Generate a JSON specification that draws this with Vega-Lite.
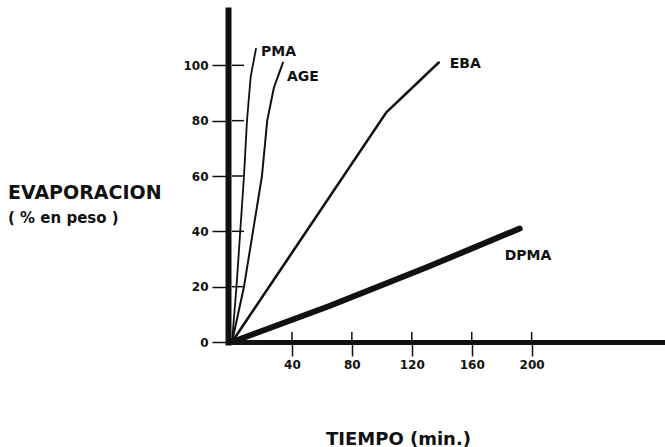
{
  "$schema": "https://vega.github.io/schema/vega-lite/v6.json",
  "width": 433,
  "height": 332,
  "autosize": {"type": "none"},
  "padding": {"left": 232, "top": 10, "right": 0, "bottom": 105},
  "background": "white",
  "config": {"view": {"stroke": null}, "font": "DejaVu Sans"},
  "title": {
    "text": "EVAPORACION",
    "subtitle": "( % en peso )",
    "orient": "top",
    "anchor": "start",
    "frame": "group",
    "dx": -224,
    "dy": 220,
    "font": "DejaVu Sans",
    "fontSize": 19,
    "fontWeight": "bold",
    "color": "#111",
    "subtitleFont": "DejaVu Sans",
    "subtitleFontSize": 15,
    "subtitleFontWeight": "bold",
    "subtitleColor": "#111",
    "subtitlePadding": 8
  },
  "datasets": {
    "curves": [
      {"serie": "PMA", "t": 0, "e": 0},
      {"serie": "PMA", "t": 3, "e": 20},
      {"serie": "PMA", "t": 5.5, "e": 40},
      {"serie": "PMA", "t": 8, "e": 60},
      {"serie": "PMA", "t": 10, "e": 80},
      {"serie": "PMA", "t": 12.5, "e": 96},
      {"serie": "PMA", "t": 16, "e": 106},
      {"serie": "AGE", "t": 0, "e": 0},
      {"serie": "AGE", "t": 8, "e": 20},
      {"serie": "AGE", "t": 14, "e": 40},
      {"serie": "AGE", "t": 20, "e": 60},
      {"serie": "AGE", "t": 23.5, "e": 80},
      {"serie": "AGE", "t": 28, "e": 92},
      {"serie": "AGE", "t": 34, "e": 101},
      {"serie": "EBA", "t": 0, "e": 0},
      {"serie": "EBA", "t": 103, "e": 83},
      {"serie": "EBA", "t": 138, "e": 101},
      {"serie": "DPMA", "t": 0, "e": 0},
      {"serie": "DPMA", "t": 65, "e": 13},
      {"serie": "DPMA", "t": 130, "e": 27},
      {"serie": "DPMA", "t": 192, "e": 41}
    ],
    "yticks": [{"v": 20}, {"v": 40}, {"v": 60}, {"v": 80}, {"v": 100}],
    "xticks": [{"v": 40}, {"v": 80}, {"v": 120}, {"v": 160}, {"v": 200}]
  },
  "layer": [
    {
      "data": {"name": "curves"},
      "transform": [{"filter": "datum.serie == 'PMA'"}],
      "mark": {"type": "line", "color": "#111", "strokeWidth": 1.8, "strokeCap": "round", "strokeJoin": "round"},
      "encoding": {
        "x": {
          "field": "t",
          "type": "quantitative",
          "scale": {"domain": [0, 289], "nice": false},
          "axis": {
            "values": [40, 80, 120, 160, 200],
            "title": "TIEMPO (min.)",
            "grid": false,
            "domainWidth": 5,
            "domainColor": "#111",
            "domainCap": "square",
            "tickColor": "#111",
            "tickWidth": 1.5,
            "tickSize": 14,
            "labelFont": "DejaVu Sans",
            "labelFontWeight": "bold",
            "labelFontSize": 12,
            "labelColor": "#111",
            "labelPadding": 3,
            "titleFont": "DejaVu Sans",
            "titleFontSize": 18,
            "titleFontWeight": "bold",
            "titleColor": "#111",
            "titleX": 166,
            "titleY": 97,
            "titleAlign": "center",
            "titleBaseline": "middle"
          }
        },
        "y": {
          "field": "e",
          "type": "quantitative",
          "scale": {"domain": [0, 120], "nice": false},
          "axis": {
            "values": [0, 20, 40, 60, 80, 100],
            "title": null,
            "grid": false,
            "offset": 4,
            "domainWidth": 6,
            "domainColor": "#111",
            "domainCap": "square",
            "tickColor": "#111",
            "tickWidth": 1.5,
            "tickSize": 16,
            "labelFont": "DejaVu Sans",
            "labelFontWeight": "bold",
            "labelFontSize": 12,
            "labelColor": "#111",
            "labelPadding": 4
          }
        }
      }
    },
    {
      "data": {"name": "curves"},
      "transform": [{"filter": "datum.serie == 'AGE'"}],
      "mark": {"type": "line", "color": "#111", "strokeWidth": 2, "strokeCap": "round", "strokeJoin": "round"},
      "encoding": {
        "x": {"field": "t", "type": "quantitative"},
        "y": {"field": "e", "type": "quantitative"}
      }
    },
    {
      "data": {"name": "curves"},
      "transform": [{"filter": "datum.serie == 'EBA'"}],
      "mark": {"type": "line", "color": "#111", "strokeWidth": 2.6, "strokeCap": "round", "strokeJoin": "round"},
      "encoding": {
        "x": {"field": "t", "type": "quantitative"},
        "y": {"field": "e", "type": "quantitative"}
      }
    },
    {
      "data": {"name": "curves"},
      "transform": [{"filter": "datum.serie == 'DPMA'"}],
      "mark": {"type": "line", "color": "#111", "strokeWidth": 6, "strokeCap": "round", "strokeJoin": "round"},
      "encoding": {
        "x": {"field": "t", "type": "quantitative"},
        "y": {"field": "e", "type": "quantitative"}
      }
    },
    {
      "data": {"name": "yticks"},
      "mark": {"type": "rule", "color": "#111", "strokeWidth": 1.5},
      "encoding": {
        "x": {"datum": 0, "type": "quantitative"},
        "x2": {"datum": 8},
        "y": {"field": "v", "type": "quantitative"}
      }
    },
    {
      "data": {"name": "xticks"},
      "mark": {"type": "rule", "color": "#111", "strokeWidth": 1.5},
      "encoding": {
        "y": {"datum": 0, "type": "quantitative"},
        "y2": {"datum": 3.6},
        "x": {"field": "v", "type": "quantitative"}
      }
    },
    {
      "data": {"name": "curves"},
      "transform": [{"filter": "datum.serie == 'PMA'"}],
      "mark": {"type": "text", "align": "left", "baseline": "middle", "dx": 5, "dy": 3, "font": "DejaVu Sans", "fontWeight": "bold", "fontSize": 14, "color": "#111"},
      "encoding": {
        "x": {"aggregate": "max", "field": "t", "type": "quantitative"},
        "y": {"aggregate": "max", "field": "e", "type": "quantitative"},
        "text": {"field": "serie", "type": "nominal"}
      }
    },
    {
      "data": {"name": "curves"},
      "transform": [{"filter": "datum.serie == 'AGE'"}],
      "mark": {"type": "text", "align": "left", "baseline": "middle", "dx": 4, "dy": 14, "font": "DejaVu Sans", "fontWeight": "bold", "fontSize": 14, "color": "#111"},
      "encoding": {
        "x": {"aggregate": "max", "field": "t", "type": "quantitative"},
        "y": {"aggregate": "max", "field": "e", "type": "quantitative"},
        "text": {"field": "serie", "type": "nominal"}
      }
    },
    {
      "data": {"name": "curves"},
      "transform": [{"filter": "datum.serie == 'EBA'"}],
      "mark": {"type": "text", "align": "left", "baseline": "middle", "dx": 11, "dy": 1, "font": "DejaVu Sans", "fontWeight": "bold", "fontSize": 14, "color": "#111"},
      "encoding": {
        "x": {"aggregate": "max", "field": "t", "type": "quantitative"},
        "y": {"aggregate": "max", "field": "e", "type": "quantitative"},
        "text": {"field": "serie", "type": "nominal"}
      }
    },
    {
      "data": {"name": "curves"},
      "transform": [{"filter": "datum.serie == 'DPMA'"}],
      "mark": {"type": "text", "align": "left", "baseline": "middle", "dx": -15, "dy": 27, "font": "DejaVu Sans", "fontWeight": "bold", "fontSize": 14, "color": "#111"},
      "encoding": {
        "x": {"aggregate": "max", "field": "t", "type": "quantitative"},
        "y": {"aggregate": "max", "field": "e", "type": "quantitative"},
        "text": {"field": "serie", "type": "nominal"}
      }
    }
  ]
}
